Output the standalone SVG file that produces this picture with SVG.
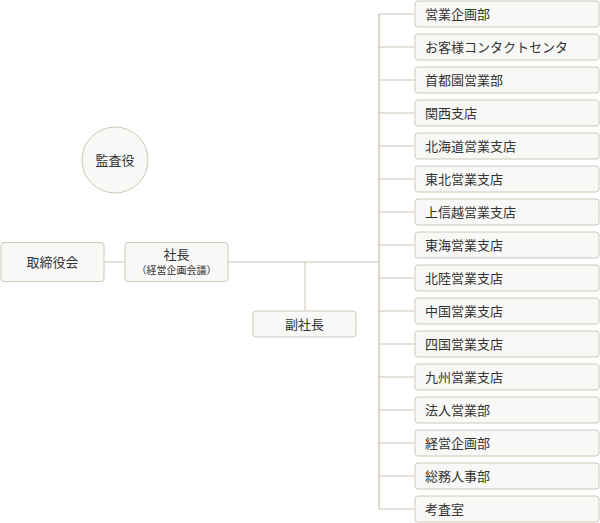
<svg xmlns="http://www.w3.org/2000/svg" width="600" height="523" viewBox="0 0 600 523">
<style>
.b{fill:#f8f8f7;stroke:#cfc7b8;stroke-width:1}
.l{stroke:#cdc4b4;stroke-width:1;fill:none}
.v{stroke:#ddd6ca;stroke-width:2;fill:none}
text{font-family:"Noto Sans CJK JP","Noto Sans CJK SC",sans-serif;font-size:13px;fill:#333}
.c{text-anchor:middle}
.s{font-size:10px}
</style>
<rect width="600" height="523" fill="#fff"/>
<g id="connectors">
<path class="v" d="M379,14V509"/>
<path class="l" d="M104,262H125M228,262H379M305,262V311"/>
<path class="l" d="M379,14H415M379,47H415M379,80H415M379,113H415M379,146H415M379,179H415M379,212H415M379,245H415M379,278H415M379,311H415M379,344H415M379,377H415M379,410H415M379,443H415M379,476H415M379,509H415"/>
</g>
<g id="kansayaku"><circle class="b" cx="115" cy="160" r="33"/><text class="c" x="115" y="165">監査役</text></g>
<g id="torishimariyakukai"><rect class="b" x="1" y="242.5" width="103" height="39" rx="3"/><text class="c" x="52.5" y="267">取締役会</text></g>
<g id="shacho"><rect class="b" x="125" y="242.5" width="103" height="39" rx="3"/><text class="c" x="176.5" y="259">社長</text><text class="c s" x="176.5" y="274">（経営企画会議）</text></g>
<g id="fukushacho"><rect class="b" x="253" y="311" width="103" height="26" rx="3"/><text class="c" x="304.5" y="328.5">副社長</text></g>
<g id="n1"><rect class="b" x="415" y="1" width="184" height="26" rx="3"/><text x="425" y="18.5">営業企画部</text></g>
<g id="n2"><rect class="b" x="415" y="34" width="184" height="26" rx="3"/><text x="425" y="51.5">お客様コンタクトセンタ</text></g>
<g id="n3"><rect class="b" x="415" y="67" width="184" height="26" rx="3"/><text x="425" y="84.5">首都園営業部</text></g>
<g id="n4"><rect class="b" x="415" y="100" width="184" height="26" rx="3"/><text x="425" y="117.5">関西支店</text></g>
<g id="n5"><rect class="b" x="415" y="133" width="184" height="26" rx="3"/><text x="425" y="150.5">北海道営業支店</text></g>
<g id="n6"><rect class="b" x="415" y="166" width="184" height="26" rx="3"/><text x="425" y="183.5">東北営業支店</text></g>
<g id="n7"><rect class="b" x="415" y="199" width="184" height="26" rx="3"/><text x="425" y="216.5">上信越営業支店</text></g>
<g id="n8"><rect class="b" x="415" y="232" width="184" height="26" rx="3"/><text x="425" y="249.5">東海営業支店</text></g>
<g id="n9"><rect class="b" x="415" y="265" width="184" height="26" rx="3"/><text x="425" y="282.5">北陸営業支店</text></g>
<g id="n10"><rect class="b" x="415" y="298" width="184" height="26" rx="3"/><text x="425" y="315.5">中国営業支店</text></g>
<g id="n11"><rect class="b" x="415" y="331" width="184" height="26" rx="3"/><text x="425" y="348.5">四国営業支店</text></g>
<g id="n12"><rect class="b" x="415" y="364" width="184" height="26" rx="3"/><text x="425" y="381.5">九州営業支店</text></g>
<g id="n13"><rect class="b" x="415" y="397" width="184" height="26" rx="3"/><text x="425" y="414.5">法人営業部</text></g>
<g id="n14"><rect class="b" x="415" y="430" width="184" height="26" rx="3"/><text x="425" y="447.5">経営企画部</text></g>
<g id="n15"><rect class="b" x="415" y="463" width="184" height="26" rx="3"/><text x="425" y="480.5">総務人事部</text></g>
<g id="n16"><rect class="b" x="415" y="496" width="184" height="26" rx="3"/><text x="425" y="513.5">考査室</text></g>
</svg>
